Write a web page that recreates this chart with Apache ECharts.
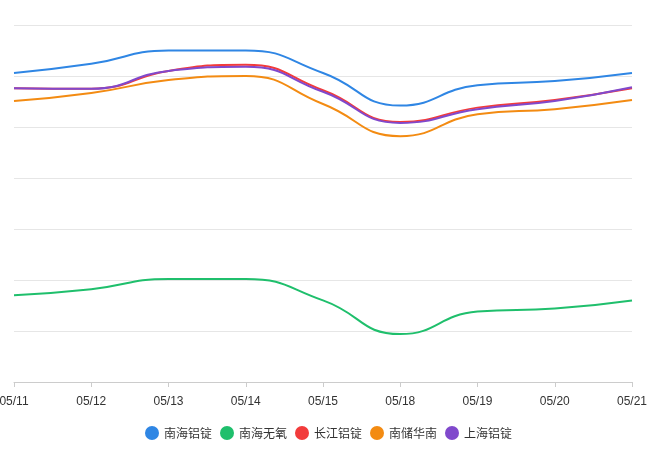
<!DOCTYPE html>
<html><head><meta charset="utf-8">
<script src="https://cdn.jsdelivr.net/npm/echarts@6/dist/echarts.min.js"></script>
<style>html,body{margin:0;padding:0;background:#fff}#c{width:657px;height:455px}</style>
</head><body><div id="c"></div>
<script>
var categories = ['05/11','05/12','05/13','05/14','05/15','05/18','05/19','05/20','05/21'];
var nanhaiLvding = [20030,20120,20250,20250,20030,19710,19910,19950,20030];
var nanhaiWuyang = [17850,17910,18010,18010,17800,17470,17690,17720,17800];
var changjiangLvding = [19880,19875,20050,20110,19860,19550,19690,19765,19880];
var nanchuHuanan = [19755,19833,19960,20000,19725,19410,19625,19675,19765];
var shanghaiLvding = [19880,19875,20050,20090,19845,19540,19675,19755,19890];
var seriesNames = ['南海铝锭','南海无氧','长江铝锭','南储华南','上海铝锭'];
var colors = ['#2f86e4','#1fbf6c','#f23b3b','#f38b12','#8049cc'];
var allData = [nanhaiLvding, nanhaiWuyang, changjiangLvding, nanchuHuanan, shanghaiLvding];

var chart = echarts.init(document.getElementById('c'));
chart.setOption({
  animation:false,
  color: colors,
  grid:{left:14,right:25,top:25,bottom:73,containLabel:false,outerBoundsMode:'none'},
  legend:{
    bottom:10, left:'center', icon:'circle', itemWidth:14, itemHeight:14, itemGap:8,
    textStyle:{color:'#333',fontSize:12,fontFamily:'Noto Sans CJK SC, sans-serif'},
    data: seriesNames
  },
  xAxis:{
    type:'category', data:categories, boundaryGap:false,
    axisLine:{lineStyle:{color:'#ccc'}},
    axisTick:{lineStyle:{color:'#ccc'}},
    axisLabel:{color:'#333',fontSize:12,margin:14,fontFamily:'Liberation Sans, Arial, sans-serif'}
  },
  yAxis:{
    type:'value', min:17000, max:20500, interval:500,
    axisLabel:{show:false}, axisLine:{show:false}, axisTick:{show:false},
    splitLine:{lineStyle:{color:'#e6e6e6'}}
  },
  series: allData.map(function(d,i){
    return {name:seriesNames[i], type:'line', data:d, smooth:true, showSymbol:false,
      lineStyle:{width:2, color:colors[i]}, itemStyle:{color:colors[i]}};
  })
});
</script></body></html>
